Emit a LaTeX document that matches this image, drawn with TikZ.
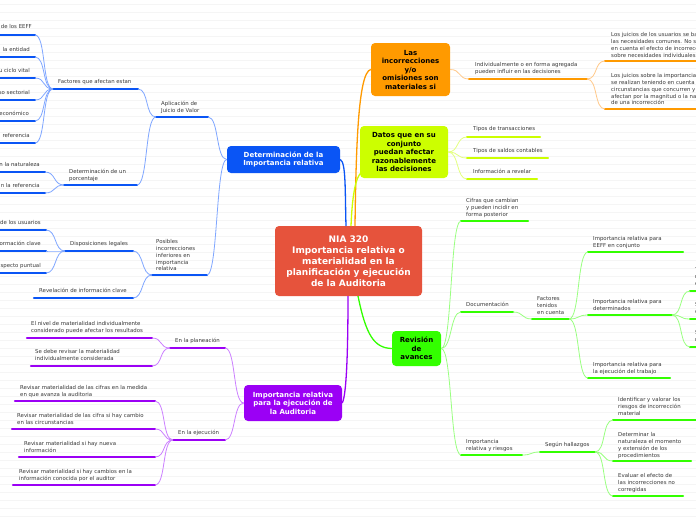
\documentclass[tikz,border=0pt]{standalone}
\usepackage{fontspec}
\setmainfont{DejaVu Sans}
\definecolor{cen}{HTML}{E6533C}
\definecolor{bl}{HTML}{0A55F5}
\definecolor{blc}{HTML}{7FA6FF}
\definecolor{orr}{HTML}{FF9A00}
\definecolor{orc}{HTML}{FFC98A}
\definecolor{ye}{HTML}{CCFF00}
\definecolor{yec}{HTML}{E4FF80}
\definecolor{gr}{HTML}{33FF00}
\definecolor{grc}{HTML}{99FF80}
\definecolor{pu}{HTML}{9B00F5}
\definecolor{puc}{HTML}{CC80FF}
\definecolor{tx}{HTML}{3A3A3A}
\newcommand\ulin[5]{\coordinate (#1L) at (#3,#5); \coordinate (#1R) at (#4,#5); \draw[ul,#2] (#1L) -- (#1R);}
\tikzset{
  ul/.style={line width=2.4pt, line cap=round},
  cn/.style={line width=0.8pt},
  lft/.style={out=180,in=0,distance=11pt},
  rgt/.style={out=0,in=180,distance=11pt},
  txt/.style={font=\fontsize{5.4}{6.8}\selectfont, align=left, inner sep=0pt, anchor=north west, text=tx},
  txr/.style={txt, anchor=north east},
  boxx/.style={rounded corners=4pt, inner sep=0pt, align=center, font=\fontsize{7}{8.5}\selectfont\bfseries},
}
\begin{document}
\begin{tikzpicture}[x=1pt,y=-1pt]
\useasboundingbox (0,0) rectangle (696,520);
\clip (0,0) rectangle (696,520);
\fill[white] (0,0) rectangle (696,520);
\foreach \yy in {4,12,...,516} \draw[black!4, line width=0.5pt] (0,\yy) -- (696,\yy);

% ---------- main boxes ----------
\node[boxx, fill=cen, text=white, minimum width=147pt, minimum height=70pt, font=\fontsize{9}{11}\selectfont\bfseries] (cen) at (348.5,261) {NIA 320\\Importancia relativa o\\materialidad en la\\planificación y ejecución\\de la Auditoria};
\node[boxx, fill=bl, text=white, minimum width=113pt, minimum height=27pt, font=\fontsize{7}{8}\selectfont\bfseries] (blue) at (283.5,159.5) {Determinación de la\\Importancia relativa};
\node[boxx, fill=orr, text=black, minimum width=79pt, minimum height=53pt] (orng) at (410.5,69.5) {Las\\incorrecciones\\y/o\\omisiones son\\materiales si};
\node[boxx, fill=ye, text=black, minimum width=88pt, minimum height=52pt] (yel) at (404,152) {Datos que en su\\conjunto\\puedan afectar\\razonablemente\\las decisiones};
\node[boxx, fill=gr, text=black, minimum width=49pt, minimum height=35pt] (grn) at (416.5,348.5) {Revisión\\de\\avances};
\node[boxx, fill=pu, text=white, minimum width=98pt, minimum height=36pt] (pur) at (293,403) {Importancia relativa\\para la ejecución de\\la Auditoria};

% main connectors
\coordinate (cb) at (346,226); \coordinate (cy) at (351,226); \coordinate (co) at (355,226);
\coordinate (cp) at (348,296); \coordinate (cg) at (358,296);
\draw[line width=1.3pt, bl] (cb) .. controls (345,190) and (346,162) .. (blue.east);
\draw[line width=1.3pt, orr] (co) .. controls (356,150) and (358,72) .. (orng.west);
\draw[line width=1.3pt, ye] (cy) .. controls (352,200) and (355,176) .. (362,172);
\draw[line width=1.3pt, pu] (cp) .. controls (348,340) and (347,395) .. (pur.east);
\draw[line width=1.3pt, gr] (cg) .. controls (366,335) and (374,348) .. (grn.west);

% ---------- blue branch ----------
\ulin{apl}{bl}{156}{208}{117}
\node[txt] (apt) at (161,101.4) {Aplicación de\\Juicio de Valor};
\ulin{fac}{bl}{53}{138}{89}
\node[txt] (fat) at (58,79.4) {Factores que afectan estan};
\ulin{fa1}{bl}{-5}{35}{35}  \node[txr] (fa1t) at (32,24.4) {de los EEFF};
\ulin{fa2}{bl}{-5}{35}{57}  \node[txr] (fa2t) at (30,47.4) {la entidad};
\ulin{fa3}{bl}{-5}{35}{78}  \node[txr] (fa3t) at (30,68.4) {u ciclo vital};
\ulin{fa4}{bl}{-5}{35}{100} \node[txr] (fa4t) at (30,90.4) {so sectorial};
\ulin{fa5}{bl}{-5}{35}{121} \node[txr] (fa5t) at (29,111.4) {económico};
\ulin{fa6}{bl}{-5}{35}{143} \node[txr] (fa6t) at (30,133.4) {referencia};
\foreach \k in {1,...,6} \draw[cn,blc] (facL) to[lft] (fa\k R);
\ulin{det}{bl}{64}{137}{185}
\node[txt] (dett) at (69,169.4) {Determinación de un\\porcentaje};
\ulin{de1}{bl}{-5}{45}{172} \node[txr] (de1t) at (40,162.4) {n la naturaleza};
\ulin{de2}{bl}{-5}{45}{193} \node[txr] (de2t) at (40,183.4) {n la referencia};
\draw[cn,blc] (detL) to[lft] (de1R);
\draw[cn,blc] (detL) to[lft] (de2R);
\draw[cn,blc] (aplL) to[lft] (facR);
\draw[cn,blc] (aplL) to[lft] (detR);
\ulin{pos}{bl}{152}{207}{275}
\node[txt] (post) at (156,239.4) {Posibles\\incorrecciones\\inferiores en\\importancia\\relativa};
\ulin{dis}{bl}{65}{133}{251}
\node[txt] (dist) at (70,241.4) {Disposiciones legales};
\ulin{di1}{bl}{-5}{46}{230} \node[txr] (di1t) at (41,220.4) {de los usuarios};
\ulin{di2}{bl}{-5}{46}{251} \node[txr] (di2t) at (41,241.4) {ormación clave};
\ulin{di3}{bl}{-5}{46}{273} \node[txr] (di3t) at (41,263.4) {specto puntual};
\foreach \k in {1,2,3} \draw[cn,blc] (disL) to[lft] (di\k R);
\ulin{rev}{bl}{34}{133}{298}
\node[txt] (revt) at (39,288.4) {Revelación de información clave};
\draw[cn,blc] (posL) to[lft] (disR);
\draw[cn,blc] (posL) to[lft] (revR);
\draw[cn,blc] (blue.west) to[lft] (aplR);
\draw[cn,blc] (blue.west) to[lft] (posR);

% ---------- purple branch ----------
\ulin{pla}{pu}{170}{225}{348}
\node[txt] (plat) at (175,338.4) {En la planeación};
\ulin{eje}{pu}{173}{225}{440}
\node[txt] (ejet) at (178,430.4) {En la ejecución};
\draw[cn,puc] (pur.west) to[lft] (plaR);
\draw[cn,puc] (pur.west) to[lft] (ejeR);
\ulin{pl1}{pu}{27}{152}{338}
\node[txt] (pl1t) at (31,321.4) {El nivel de materialidad individualmente\\considerado puede afectar los resultados};
\ulin{pl2}{pu}{31}{152}{366}
\node[txt] (pl2t) at (35,349.4) {Se debe revisar la materialidad\\individualmente considerada};
\draw[cn,puc] (plaL) to[lft] (pl1R);
\draw[cn,puc] (plaL) to[lft] (pl2R);
\ulin{ej1}{pu}{15}{155}{401}
\node[txt] (ej1t) at (20,385.4) {Revisar materialidad de las cifras en la medida\\en que avanza la auditoria};
\ulin{ej2}{pu}{12}{155}{429}
\node[txt] (ej2t) at (17,413.4) {Revisar materialidad de las cifra si hay cambio\\en las circunstancias};
\ulin{ej3}{pu}{19}{155}{457}
\node[txt] (ej3t) at (24,441.4) {Revisar materialidad si hay nueva\\información};
\ulin{ej4}{pu}{13}{155}{485}
\node[txt] (ej4t) at (19,469.4) {Revisar materialidad si hay cambios en la\\información conocida por el auditor};
\foreach \k in {1,...,4} \draw[cn,puc] (ejeL) to[lft] (ej\k R);

% ---------- orange branch ----------
\ulin{ind}{orr}{469}{587}{79}
\node[txt] (indt) at (475,62.4) {Individualmente o en forma agregada\\pueden influir en las decisiones};
\draw[cn,orc] (orng.east) to[rgt] (indL);
\ulin{or1}{orr}{605}{710}{61}
\node[txt] (or1t) at (611,32.4) {Los juicios de los usuarios se basan en\\las necesidades comunes. No se tiene\\en cuenta el efecto de incorrecciones\\sobre necesidades individuales};
\ulin{or2}{orr}{605}{710}{109}
\node[txt] (or2t) at (611,73.4) {Los juicios sobre la importancia relativa\\se realizan teniendo en cuenta las\\circunstancias que concurren y se ven\\afectan por la magnitud o la naturaleza\\de una incorrección};
\draw[cn,orc] (indR) to[rgt] (or1L);
\draw[cn,orc] (indR) to[rgt] (or2L);

% ---------- yellow branch ----------
\ulin{ye1}{ye}{467}{540}{137} \node[txt] (ye1t) at (473,126.4) {Tipos de transacciones};
\ulin{ye2}{ye}{467}{548}{158} \node[txt] (ye2t) at (473,148.4) {Tipos de saldos contables};
\ulin{ye3}{ye}{467}{537}{179} \node[txt] (ye3t) at (473,169.4) {Información a revelar};
\foreach \k in {1,2,3} \draw[cn,yec] (yel.east) to[rgt] (ye\k L);

% ---------- green branch ----------
\ulin{cif}{gr}{461}{528}{221}
\node[txt] (cift) at (466,198.4) {Cifras que cambian\\y pueden incidir en\\forma posterior};
\ulin{doc}{gr}{461}{513}{312}
\node[txt] (doct) at (466,302.4) {Documentación};
\ulin{irr}{gr}{461}{522}{455}
\node[txt] (irrt) at (466,439.4) {Importancia\\relativa y riesgos};
\draw[cn,grc] (grn.east) to[rgt] (cifL);
\draw[cn,grc] (grn.east) to[rgt] (docL);
\draw[cn,grc] (grn.east) to[rgt] (irrL);
\ulin{ften}{gr}{532}{569}{319}
\node[txt] (ftent) at (537,296.4) {Factores\\tenidos\\en cuenta};
\draw[cn,grc] (docR) to[rgt] (ftenL);
\ulin{ir1}{gr}{588}{683}{252}
\node[txt] (ir1t) at (593,236.4) {Importancia relativa para\\EEFF en conjunto};
\ulin{ir2}{gr}{588}{672}{315}
\node[txt] (ir2t) at (593,299.4) {Importancia relativa para\\determinados};
\ulin{ir3}{gr}{588}{670}{378}
\node[txt] (ir3t) at (593,362.4) {Importancia relativa para\\la ejecución del trabajo};
\foreach \k in {1,2,3} \draw[cn,grc] (ftenR) to[rgt] (ir\k L);
\ulin{dt1}{gr}{690}{710}{291} \node[txt] (dt1t) at (695,267.4) {Transacciones\\relativas\\específicas};
\ulin{dt2}{gr}{690}{710}{319} \node[txt] (dt2t) at (695,302.4) {Saldos\\contables};
\ulin{dt3}{gr}{690}{710}{347} \node[txt] (dt3t) at (695,330.4) {Saldos\\revelados};
\foreach \k in {1,2,3} \draw[cn,grc] (ir2R) to[rgt] (dt\k L);
\ulin{seg}{gr}{540}{595}{452}
\node[txt] (segt) at (545,442.4) {Según hallazgos};
\draw[cn,grc] (irrR) to[rgt] (segL);
\ulin{sg1}{gr}{613}{710}{420}
\node[txt] (sg1t) at (618,397.4) {Identificar y valorar los\\riesgos de incorrección\\material};
\ulin{sg2}{gr}{613}{691}{461}
\node[txt] (sg2t) at (618,432.4) {Determinar la\\naturaleza el momento\\y extensión de los\\procedimientos};
\ulin{sg3}{gr}{613}{683}{496}
\node[txt] (sg3t) at (618,473.4) {Evaluar el efecto de\\las incorrecciones no\\corregidas};
\foreach \k in {1,2,3} \draw[cn,grc] (segR) to[rgt] (sg\k L);
\end{tikzpicture}
\end{document}
